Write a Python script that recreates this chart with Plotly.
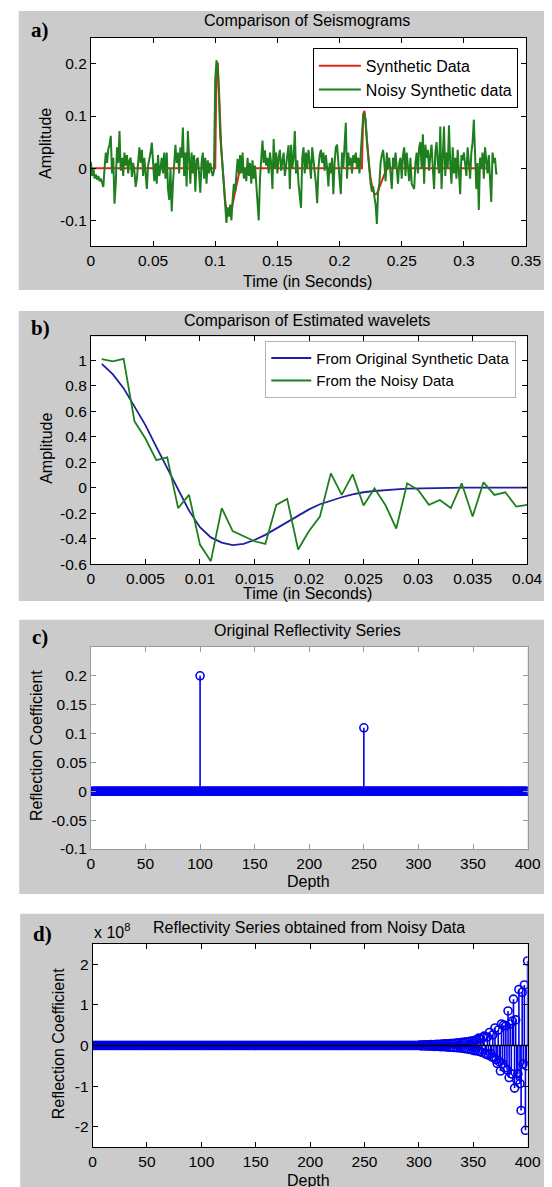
import numpy as np
import plotly.graph_objects as go

W, H = 552, 1187

# ---------------- Panel a: seismograms ----------------
dt_a = 0.001
noisy_a = [
    0.012, -0.015, 0.000, -0.020, -0.012, -0.022, -0.015, -0.025, -0.020, -0.030,
    -0.036, 0.000, 0.030, 0.010, 0.037, 0.045, 0.062, -0.010, 0.020, -0.068,
    -0.030, 0.040, 0.010, 0.071, -0.005, 0.020, -0.015, 0.030, 0.005, 0.025,
    -0.010, 0.015, 0.020, -0.017, 0.010, -0.005, -0.036, -0.020, 0.015, 0.040,
    0.010, 0.035, -0.015, 0.020, -0.010, -0.040, 0.005, 0.015, 0.030, 0.049,
    0.000, -0.025, 0.010, -0.030, 0.025, -0.015, 0.000, 0.020, -0.010, 0.030,
    -0.020, 0.030, -0.040, -0.061, 0.000, -0.083, -0.030, 0.020, 0.045, 0.010,
    0.030, -0.010, 0.040, 0.020, 0.078, -0.015, 0.030, -0.035, 0.071, 0.020,
    -0.030, 0.030, -0.010, 0.025, -0.045, 0.015, 0.020, -0.010, -0.047, 0.010,
    0.030, -0.020, 0.020, -0.030, 0.015, -0.010, 0.010, -0.005, -0.015, -0.005,
    0.170, 0.207, 0.190, 0.140, 0.062, 0.035, 0.000, -0.040, -0.065, -0.105,
    -0.075, -0.093, -0.070, -0.100, -0.060, -0.030, -0.045, -0.020, 0.018, -0.010,
    0.025, -0.010, 0.030, -0.020, 0.000, -0.025, 0.020, -0.015, 0.010, -0.030,
    0.015, -0.020, 0.005, -0.030, -0.060, -0.100, -0.020, 0.030, 0.053, 0.010,
    0.034, 0.005, 0.020, -0.010, 0.030, 0.010, -0.040, 0.056, 0.000, 0.030,
    -0.010, 0.020, 0.035, -0.005, 0.015, 0.030, -0.015, 0.010, 0.025, 0.044,
    -0.040, 0.045, 0.000, 0.020, 0.071, -0.010, 0.015, -0.030, -0.060, -0.076,
    0.020, 0.040, -0.010, 0.030, 0.000, 0.035, 0.010, -0.020, 0.040, 0.015,
    0.005, -0.030, -0.067, 0.000, 0.025, 0.035, 0.010, 0.030, -0.005, 0.025,
    0.000, -0.035, 0.010, -0.010, 0.020, -0.050, 0.010, 0.040, 0.045, 0.000,
    -0.020, -0.050, 0.030, 0.000, 0.040, 0.087, -0.020, 0.030, 0.005, 0.020,
    -0.010, 0.025, 0.010, 0.030, 0.000, 0.020, -0.010, 0.030, 0.050, 0.100,
    0.106, 0.092, 0.050, 0.020, -0.005, -0.030, -0.045, -0.035, -0.055, -0.070,
    -0.107, -0.045, -0.030, 0.010, 0.025, 0.035, 0.010, -0.025, 0.030, 0.000,
    0.020, -0.020, -0.040, 0.020, 0.000, 0.030, -0.005, -0.030, 0.010, 0.020,
    -0.020, 0.025, 0.040, -0.015, 0.030, 0.000, -0.025, 0.020, -0.030, -0.035,
    -0.040, 0.010, 0.030, -0.010, 0.040, 0.050, 0.000, 0.065, -0.030, 0.045,
    0.020, 0.035, -0.005, 0.025, 0.045, 0.000, -0.040, 0.030, 0.050, 0.010,
    -0.010, 0.080, -0.040, 0.020, 0.080, -0.015, 0.030, 0.000, 0.082, 0.010,
    -0.030, 0.040, -0.010, 0.020, -0.020, 0.035, 0.000, -0.050, 0.025, 0.015,
    0.030, 0.000, -0.015, 0.040, 0.010, -0.020, 0.030, 0.050, 0.093, 0.020,
    -0.040, 0.010, -0.080, 0.020, 0.000, 0.030, -0.020, 0.040, 0.015, -0.010,
    0.025, -0.030, -0.065, 0.030, 0.010, 0.020, -0.010, -0.010,
]
synth_pulse1_start = 0.100
synth_pulse1 = [0.0, 0.190, 0.203, 0.150, 0.080, 0.030, 0.000, -0.035, -0.062, -0.080,
                -0.088, -0.090, -0.087, -0.080, -0.068, -0.055, -0.042, -0.030, -0.020,
                -0.012, -0.006, -0.002, 0.0]
synth_pulse2_start = 0.218
synth_pulse2 = [0.0, 0.104, 0.110, 0.083, 0.044, 0.016, 0.000, -0.020, -0.034, -0.044,
                -0.049, -0.050, -0.048, -0.044, -0.037, -0.030, -0.023, -0.016, -0.011,
                -0.006, -0.003, 0.0]
synth_end = 0.320

a_xticks = [0, 0.05, 0.1, 0.15, 0.2, 0.25, 0.3, 0.35]
a_xlabels = ["0", "0.05", "0.1", "0.15", "0.2", "0.25", "0.3", "0.35"]
a_yticks = [-0.1, 0, 0.1, 0.2]
a_ylabels = ["-0.1", "0", "0.1", "0.2"]

# ---------------- Panel b: wavelets ----------------
dt_b = 0.001
wavelet_orig = [0.97, 0.89, 0.78, 0.64, 0.49, 0.32, 0.15, -0.02, -0.18, -0.31,
                -0.39, -0.43, -0.45, -0.44, -0.41, -0.37, -0.32, -0.27, -0.22, -0.17,
                -0.13, -0.10, -0.075, -0.052, -0.036, -0.026, -0.018, -0.013, -0.008, -0.005,
                -0.003, -0.002, -0.001, 0.0, 0.0, 0.0, 0.0, 0.0, 0.0, 0.0]
wavelet_noisy = [1.008, 0.99, 1.01, 0.52, 0.385, 0.215, 0.237, -0.16, -0.057, -0.446,
                 -0.576, -0.16, -0.34, -0.38, -0.42, -0.44, -0.135, -0.088, -0.485, -0.34,
                 -0.226, 0.112, -0.057, 0.104, -0.14, -0.005, -0.135, -0.32, 0.034, -0.018,
                 -0.135, -0.096, -0.16, 0.034, -0.226, 0.042, -0.057, -0.036, -0.148, -0.135]
b_xticks = [0, 0.005, 0.01, 0.015, 0.02, 0.025, 0.03, 0.035, 0.04]
b_xlabels = ["0", "0.005", "0.01", "0.015", "0.02", "0.025", "0.03", "0.035", "0.04"]
b_yticks = [-0.6, -0.4, -0.2, 0, 0.2, 0.4, 0.6, 0.8, 1]
b_ylabels = ["-0.6", "-0.4", "-0.2", "0", "0.2", "0.4", "0.6", "0.8", "1"]

# ---------------- Panel c: original reflectivity ----------------
n_depth = 400
refl_spikes = {100: 0.2, 250: 0.11}
c_xticks = [0, 50, 100, 150, 200, 250, 300, 350, 400]
c_xlabels = [str(v) for v in c_xticks]
c_yticks = [-0.1, -0.05, 0, 0.05, 0.1, 0.15, 0.2]
c_ylabels = ["-0.1", "-0.05", "0", "0.05", "0.1", "0.15", "0.2"]

# ---------------- Panel d: reflectivity from noisy data (units of 1e8) ----------------
d_zero_count = 300
d_tail_e8 = [
    0.01, -0.01, 0.012, -0.008, 0.015, -0.012, 0.01, -0.015, 0.018, -0.014,
    0.02, -0.018, 0.015, -0.022, 0.025, -0.02, 0.028, -0.025, 0.022, -0.03,
    0.032, -0.028, 0.035, -0.03, 0.04, -0.038, 0.036, -0.042, 0.045, -0.04,
    0.05, -0.048, 0.055, -0.05, 0.06, -0.058, 0.065, -0.062, 0.07, -0.068,
    0.075, -0.08, 0.085, -0.078, 0.09, -0.095, 0.1, -0.1, 0.11, -0.12,
    0.12, -0.13, 0.14, -0.13, 0.18, -0.15, 0.16, -0.17, 0.19, 0.23,
    -0.19, -0.22, 0.21, -0.24, 0.32, -0.2, -0.28, 0.26, -0.3, 0.43,
    -0.35, -0.44, 0.38, -0.4, -0.63, 0.53, -0.45, 0.5, -0.55, 0.48,
    -0.6, 0.85, -0.79, 0.53, -0.7, 0.6, 1.14, -1.05, 0.63, -0.85,
    -0.7, 1.38, -0.94, -1.6, 1.31, -0.46, 1.49, -2.09, -0.5, 2.08,
]
d_xticks = c_xticks
d_xlabels = c_xlabels
d_yticks = [-2, -1, 0, 1, 2]
d_ylabels = ["-2", "-1", "0", "1", "2"]

# ---------------- colours / fonts ----------------
GRAY = "#cbcbcb"
RED = "#e3241c"
GREEN = "#1f7f1f"
NAVY = "#1f1fa0"
BLUE = "#0000ee"
FONT = "Liberation Sans, Arial, Helvetica, sans-serif"
SERIF = "Liberation Serif, Times New Roman, serif"


def px_x(x):
    return x / W


def px_y(y):
    return 1 - y / H


def xdom(a, b):
    return [a / W, b / W]


def ydom(top, bottom):
    return [1 - bottom / H, 1 - top / H]


def stems(xs, ys):
    sx, sy = [], []
    for x, y in zip(xs, ys):
        if y != 0:
            sx += [x, x, None]
            sy += [0, y, None]
    return sx, sy


fig = go.Figure()

# panel a traces
t_a = np.arange(len(noisy_a)) * dt_a
p1_t = synth_pulse1_start + np.arange(len(synth_pulse1)) * dt_a
p2_t = synth_pulse2_start + np.arange(len(synth_pulse2)) * dt_a
red_t = [0.0] + list(p1_t) + list(p2_t) + [synth_end]
red_v = [0.0] + synth_pulse1 + synth_pulse2 + [0.0]
fig.add_trace(go.Scatter(x=red_t, y=red_v, mode="lines", name="Synthetic Data",
                         line=dict(color=RED, width=2), xaxis="x", yaxis="y", legend="legend"))
fig.add_trace(go.Scatter(x=t_a, y=noisy_a, mode="lines", name="Noisy Synthetic data",
                         line=dict(color=GREEN, width=2), xaxis="x", yaxis="y", legend="legend"))

# panel b traces
t_b = np.arange(1, len(wavelet_orig) + 1) * dt_b
fig.add_trace(go.Scatter(x=t_b, y=wavelet_orig, mode="lines", name="From Original Synthetic Data",
                         line=dict(color=NAVY, width=1.8), xaxis="x2", yaxis="y2", legend="legend2"))
fig.add_trace(go.Scatter(x=t_b, y=wavelet_noisy, mode="lines", name="From the Noisy Data",
                         line=dict(color=GREEN, width=1.8), xaxis="x2", yaxis="y2", legend="legend2"))

# panel c traces
depth = np.arange(1, n_depth + 1)
refl = [refl_spikes.get(int(n), 0.0) for n in depth]
sx, sy = stems(depth, refl)
fig.add_trace(go.Scatter(x=sx, y=sy, mode="lines", line=dict(color=BLUE, width=1.6),
                         showlegend=False, xaxis="x3", yaxis="y3"))
fig.add_trace(go.Scatter(x=depth, y=refl, mode="markers", showlegend=False,
                         marker=dict(symbol="circle-open", size=8, color=BLUE,
                                     line=dict(width=1.6, color=BLUE)),
                         xaxis="x3", yaxis="y3"))

# panel d traces
refl_d = [0.0] * d_zero_count + d_tail_e8
sx, sy = stems(depth, refl_d)
fig.add_trace(go.Scatter(x=sx, y=sy, mode="lines", line=dict(color=BLUE, width=1.6),
                         showlegend=False, xaxis="x4", yaxis="y4"))
fig.add_trace(go.Scatter(x=depth, y=refl_d, mode="markers", showlegend=False,
                         marker=dict(symbol="circle-open", size=8, color=BLUE,
                                     line=dict(width=1.6, color=BLUE)),
                         xaxis="x4", yaxis="y4"))


def axis(domain, rng, tv, tt, anchor, color="black"):
    return dict(domain=domain, range=rng, tickvals=tv, ticktext=tt, anchor=anchor,
                showline=True, linecolor=color, linewidth=1, mirror="ticks",
                ticks="inside", ticklen=5, tickcolor=color, tickwidth=1,
                showgrid=False, zeroline=False, fixedrange=True,
                tickfont=dict(family=FONT, size=15.5, color="black"))


shapes = []
for (x0, y0, x1, y1) in [(7, 3, 552, 284), (7, 305, 552, 597), (7.5, 616, 552, 892), (8.5, 912, 552, 1187)]:
    shapes.append(dict(type="rect", xref="paper", yref="paper", x0=px_x(x0), x1=px_x(x1),
                       y0=px_y(y1), y1=px_y(y0), fillcolor=GRAY, line=dict(width=0), layer="below"))
for ax in ["x", "x2", "x3", "x4"]:
    ya = ax.replace("x", "y")
    shapes.append(dict(type="rect", xref=ax + " domain", yref=ya + " domain", x0=0, x1=1, y0=0, y1=1,
                       fillcolor="white", line=dict(width=0), layer="below"))
# stem baseline in panel d
shapes.append(dict(type="line", xref="x4 domain", yref="y4", x0=0, x1=1, y0=0, y1=0,
                   line=dict(color="black", width=1.5), layer="above"))

annotations = []


def ann(text, x, y, size=16, family=FONT, angle=0, xanchor="center", yanchor="middle"):
    annotations.append(dict(text=text, x=px_x(x), y=px_y(y), xref="paper", yref="paper",
                            showarrow=False, textangle=angle, xanchor=xanchor, yanchor=yanchor,
                            font=dict(family=family, size=size, color="black")))


ann("Comparison of Seismograms", 306, 13)
ann("Time (in Seconds)", 306, 275)
ann("Amplitude", 34, 136, angle=-90)
ann("<b>a)</b>", 29, 22, size=21, family=SERIF)

ann("Comparison of Estimated wavelets", 305, 315)
ann("Time (in Seconds)", 306, 589)
ann("Amplitude", 35, 443, angle=-90)
ann("<b>b)</b>", 29, 322, size=21, family=SERIF)

ann("Original Reflectivity Series", 306, 627)
ann("Depth", 307, 879)
ann("Reflection Coefficient", 26, 743, angle=-90)
ann("<b>c)</b>", 29.5, 633, size=21, family=SERIF)

ann("Reflectivity Series obtained from Noisy Data", 308, 926)
ann("Depth", 307, 1180)
ann("Reflection Coefficient", 49, 1043, angle=-90)
ann("<b>d)</b>", 31.5, 932, size=21, family=SERIF)
ann("x 10<sup>8</sup>", 83, 929, xanchor="left")

fig.update_layout(
    width=W, height=H, margin=dict(l=0, r=0, t=0, b=0),
    paper_bgcolor="white", plot_bgcolor="white",
    xaxis=axis(xdom(81.7, 532.4), [0, 0.35], a_xticks, a_xlabels, "y"),
    yaxis=axis(ydom(30, 240), [-0.15, 0.25], a_yticks, a_ylabels, "x"),
    xaxis2=axis(xdom(81.7, 533.5), [0, 0.04], b_xticks, b_xlabels, "y2"),
    yaxis2=axis(ydom(330.7, 560), [-0.6, 1.185], b_yticks, b_ylabels, "x2"),
    xaxis3=axis(xdom(81.7, 534), [0, 400], c_xticks, c_xlabels, "y3", color="#9a9a9a"),
    yaxis3=axis(ydom(643.3, 846.7), [-0.1, 0.25], c_yticks, c_ylabels, "x3", color="#9a9a9a"),
    xaxis4=axis(xdom(83.5, 534), [0, 400], d_xticks, d_xlabels, "y4"),
    yaxis4=axis(ydom(942.3, 1146.7), [-2.5, 2.5], d_yticks, d_ylabels, "x4"),
    legend=dict(x=px_x(311.6), y=px_y(40), xanchor="left", yanchor="top", bgcolor="white",
                bordercolor="black", borderwidth=1, itemwidth=42,
                font=dict(family=FONT, size=16, color="black")),
    legend2=dict(x=px_x(262.3), y=px_y(335), xanchor="left", yanchor="top", bgcolor="white",
                 bordercolor="#b4b4b4", borderwidth=1, itemwidth=40,
                 font=dict(family=FONT, size=15, color="black")),
    shapes=shapes, annotations=annotations, showlegend=True,
)

fig.write_html("out.html")
